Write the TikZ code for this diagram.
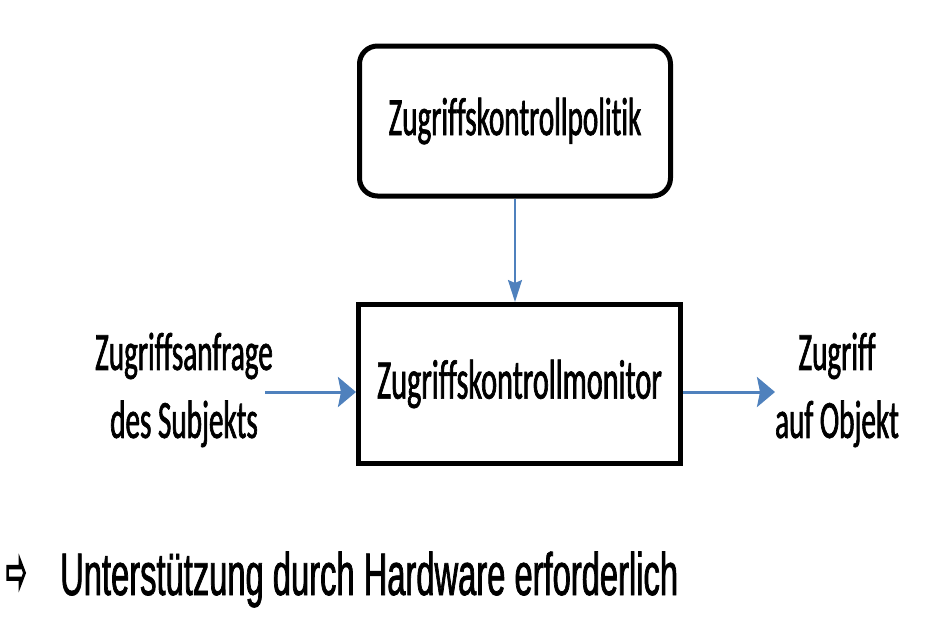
\documentclass[tikz,border=0pt]{standalone}
\usepackage{fontspec}
\usetikzlibrary{arrows.meta}
\setmainfont{Carlito}[FakeStretch=0.54, FakeBold=1.2, Ligatures={NoCommon}]
\newfontfamily\notefont{Liberation Sans}[FakeStretch=0.545, FakeBold=1.2]
\newfontfamily\symfont{DejaVu Sans}[FakeStretch=0.38, FakeBold=2]
\definecolor{arrowblue}{RGB}{79,129,189}
\begin{document}
\begin{tikzpicture}[x=1pt, y=-1pt,
	boxtext/.style = {font=\fontsize{54}{68}\selectfont, align=center, inner sep=0pt},
	policybox/.style = {boxtext, draw, line width=5pt, rounded corners=18pt, minimum width=311pt, minimum height=150pt},
	monitorbox/.style = {boxtext, draw, line width=5pt, minimum width=322pt, minimum height=159pt},
	flow/.style = {arrowblue, line width=3pt, -{Stealth[length=18pt, width=30pt, inset=3pt]}},
	thinflow/.style = {arrowblue, line width=2pt, -{Stealth[length=22pt, width=14pt, inset=3pt]}}]
	\useasboundingbox (0,0) rectangle (930,632);
	\node [policybox] (policy) at (515,121) {Zugriffskontrollpolitik};
	\node [monitorbox] (monitor) at (519.5,384) {\fontsize{56}{68}\selectfont Zugriffskontrollmonitor};
	\node [boxtext] (request) at (184,390) {Zugriffsanfrage\\des Subjekts};
	\node [boxtext] (access) at (837,390) {Zugriff\\auf Objekt};
	\coordinate (in) at (265,392);
	\coordinate (out) at (775,392);
	\draw [thinflow] (policy.south) -- (policy.south |- monitor.north);
	\draw [flow] (in) -- (monitor.west |- in);
	\draw [flow] (monitor.east |- out) -- (out);
	\node [anchor=base west, inner sep=0pt, font=\symfont\fontsize{64}{70}\selectfont] (sym) at (6,593) {⇨};
	\node [anchor=base west, inner sep=0pt, font=\notefont\fontsize{60}{70}\selectfont] (note) at (60,595) {Unterstützung durch Hardware erforderlich};
\end{tikzpicture}
\end{document}
